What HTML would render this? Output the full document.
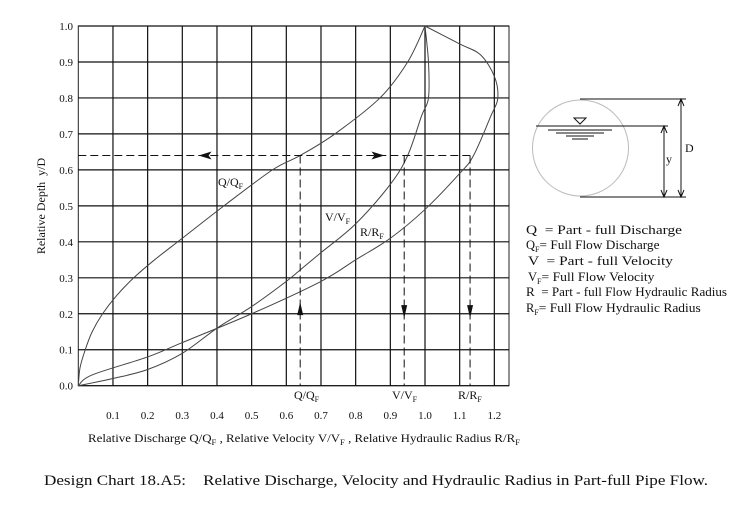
<!DOCTYPE html>
<html><head><meta charset="utf-8"><style>
body{margin:0;background:#fff;}
svg text{font-family:"Liberation Serif",serif;fill:#111;white-space:pre;}
</style></head><body>
<svg width="739" height="504" viewBox="0 0 739 504">
<g id="grid"></g>
<g id="curves"></g>
<g id="guides"></g>
<g id="labels"></g>
<text x="45" y="206" font-size="12" text-anchor="middle" transform="rotate(-90 45 206)">Relative Depth  y/D</text>
<text x="88" y="442" font-size="12" textLength="432" lengthAdjust="spacingAndGlyphs">Relative Discharge Q/Q<tspan font-size="8" dy="3">F</tspan><tspan dy="-3"> , Relative Velocity V/V</tspan><tspan font-size="8" dy="3">F</tspan><tspan dy="-3"> , Relative Hydraulic Radius R/R</tspan><tspan font-size="8" dy="3">F</tspan></text>
<text x="44" y="485" font-size="15" textLength="664" lengthAdjust="spacingAndGlyphs" xml:space="preserve">Design Chart 18.A5:    Relative Discharge, Velocity and Hydraulic Radius in Part-full Pipe Flow.</text>
<g stroke="#111" fill="none">
<circle cx="580.5" cy="148" r="48" stroke="#bbb"/>
<line x1="580" y1="99" x2="686" y2="99"/>
<line x1="580" y1="197" x2="686" y2="197"/>
<line x1="536" y1="126" x2="668" y2="126"/>
<line x1="548" y1="130" x2="612" y2="130"/><line x1="556" y1="133" x2="604" y2="133"/><line x1="566" y1="136" x2="594" y2="136"/><line x1="572" y1="139" x2="588" y2="139"/>
<path d="M574 118 L586 118 L580 124 Z"/>
<line x1="681" y1="100" x2="681" y2="196"/>
<path d="M678 106 L681 99 L684 106 M678 190 L681 197 L684 190"/>
<line x1="664" y1="127" x2="664" y2="196"/>
<path d="M661 133 L664 126 L667 133 M661 190 L664 197 L667 190"/>
</g>
<text x="685" y="152" font-size="12">D</text>
<text x="666" y="163" font-size="12">y</text>
<g font-size="12.5">
<text x="526" y="234" textLength="156" lengthAdjust="spacingAndGlyphs">Q  = Part - full Discharge</text>
<text x="526" y="249">Q<tspan font-size="8" dy="3">F</tspan><tspan dy="-3" textLength="120" lengthAdjust="spacingAndGlyphs">= Full Flow Discharge</tspan></text>
<text x="528" y="265" textLength="145" lengthAdjust="spacingAndGlyphs">V  = Part - full Velocity</text>
<text x="528" y="281">V<tspan font-size="8" dy="3">F</tspan><tspan dy="-3" textLength="113" lengthAdjust="spacingAndGlyphs">= Full Flow Velocity</tspan></text>
<text x="526" y="296" textLength="201" lengthAdjust="spacingAndGlyphs">R  = Part - full Flow Hydraulic Radius</text>
<text x="526" y="312">R<tspan font-size="8" dy="3">F</tspan><tspan dy="-3" textLength="162" lengthAdjust="spacingAndGlyphs">= Full Flow Hydraulic Radius</tspan></text>
</g>
</svg>
<script>
const xTicks=[0.1,0.2,0.3,0.4,0.5,0.6,0.7,0.8,0.9,1.0,1.1,1.2];
const yTicks=[0.0,0.1,0.2,0.3,0.4,0.5,0.6,0.7,0.8,0.9,1.0];
const qX=[0,0.005,0.02,0.04,0.07,0.11,0.16,0.22,0.3,0.42,0.56,0.64,0.74,0.87,0.95,1.0];
const qY=[0,0.05,0.1,0.15,0.2,0.25,0.3,0.35,0.41,0.5,0.6,0.64,0.7,0.8,0.9,1.0];
const vX=[0,0.1,0.2,0.3,0.4,0.5,0.6,0.65,0.7,0.8,0.9,0.95,0.99,1.01,1.01,1.0];
const vY=[0,0.02,0.045,0.09,0.16,0.22,0.29,0.33,0.37,0.45,0.56,0.64,0.75,0.8,0.9,1.0];
const rX=[0,0.04,0.2,0.3,0.5,0.7,0.8,0.9,1.0,1.1,1.14,1.19,1.21,1.2,1.16,1.1,1.0];
const rY=[0,0.03,0.08,0.12,0.2,0.29,0.35,0.41,0.49,0.59,0.64,0.75,0.8,0.86,0.92,0.95,1.0];
const designDepth=0.64;
const readQ=0.64, readV=0.94, readR=1.13;
const NS='http://www.w3.org/2000/svg';
const x0=78.3,x1=425,y0=385.7,y1=26,xMaxPx=509;
function sx(v){return x0+v*(x1-x0);}
function sy(v){return y0-v*(y0-y1);}
function mk(tag,attrs,parent){const e=document.createElementNS(NS,tag);for(const k in attrs)e.setAttribute(k,attrs[k]);parent.appendChild(e);return e;}
const grid=document.getElementById('grid');
const border=mk('rect',{x:x0,y:y1,width:xMaxPx-x0,height:y0-y1,fill:'none',stroke:'#222','stroke-width':1},grid);


xTicks.forEach(t=>{
 const l=mk('line',{x1:sx(t),x2:sx(t),y1:y1,y2:y0,stroke:'#111','stroke-width':1.2},grid);
 
 
 const tx=mk('text',{x:sx(t),y:419,'font-size':11,'text-anchor':'middle'},grid);
 tx.textContent=t.toFixed(1);
 
 
});
yTicks.forEach(t=>{
 const l=mk('line',{x1:x0,x2:xMaxPx,y1:sy(t),y2:sy(t),stroke:'#111','stroke-width':1.2},grid);
 
 
 const tx=mk('text',{x:73,y:sy(t)+4,'font-size':11,'text-anchor':'end'},grid);
 tx.textContent=t.toFixed(1);
 
 
});
function curve(X,Y,name){
 const p=X.map((v,i)=>[sx(v),sy(Y[i])]);
 let d='M'+p[0][0]+' '+p[0][1];
 for(let i=1;i<p.length;i++){
  const a=p[i-1],b=p[i],pa=p[i-2]||a,nb=p[i+1]||b;
  const c1=[a[0]+(b[0]-pa[0])/6,a[1]+(b[1]-pa[1])/6],c2=[b[0]-(nb[0]-a[0])/6,b[1]-(nb[1]-a[1])/6];
  d+=` C${c1[0]} ${c1[1]} ${c2[0]} ${c2[1]} ${b[0]} ${b[1]}`;
 }
 const e=mk('path',{d:d,fill:'none',stroke:'#444','stroke-width':1},document.getElementById('curves'));
 
 
}
curve(qX,qY,'q-qf-curve');curve(vX,vY,'v-vf-curve');curve(rX,rY,'r-rf-curve');
const g=document.getElementById('guides');
const h=mk('line',{x1:x0,x2:sx(readR),y1:sy(designDepth),y2:sy(designDepth),stroke:'#111','stroke-dasharray':'8 4','stroke-width':1},g);


[readQ,readV,readR].forEach((v,i)=>{
 const l=mk('line',{x1:sx(v),x2:sx(v),y1:sy(designDepth),y2:y0,stroke:'#111','stroke-dasharray':'8 4','stroke-width':1},g);
 
 
 const ay=sy(0.21),ax=sx(v);
 const d=i===0?`M${ax-3} ${ay+5} L${ax} ${ay-8} L${ax+3} ${ay+5} Z`:`M${ax-3} ${ay-5} L${ax} ${ay+8} L${ax+3} ${ay-5} Z`;
 const a=mk('path',{d:d,fill:'#111'},g);
 
 
});
[[0.37,-1],[0.86,1]].forEach(([v,dir])=>{
 const ax=sx(v),ay=sy(designDepth);
 const a=mk('path',{d:`M${ax+dir*8} ${ay} L${ax-dir*5} ${ay-4} L${ax-dir*2} ${ay} L${ax-dir*5} ${ay+4} Z`,fill:'#111'},g);
 
 
});
const lab=document.getElementById('labels');
function sub(x,y,main,s,name){
 const t=mk('text',{x:x,y:y,'font-size':12},lab);
 
 
 t.textContent=main;
 const ts=mk('tspan',{'font-size':8,dy:3},t);ts.textContent=s;
}
sub(218,186,'Q/Q','F','q-curve-label');
sub(325,221,'V/V','F','v-curve-label');
sub(360,236,'R/R','F','r-curve-label');
sub(294,399,'Q/Q','F','q-read-label');
sub(392,399,'V/V','F','v-read-label');
sub(458,399,'R/R','F','r-read-label');
</script>
</body></html>
